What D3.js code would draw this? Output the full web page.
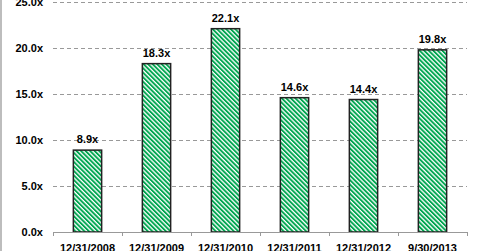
<!DOCTYPE html>
<html>
<head>
<meta charset="utf-8">
<script src="https://cdn.jsdelivr.net/npm/d3@7"></script>
<style>
body { margin: 0; background: #fff; }
svg text { font-family: Arial, "Liberation Sans", sans-serif; font-weight: bold; font-size: 11px; fill: #000; }
</style>
</head>
<body>
<div class="chart"></div>
<script>
var periods = ["12/31/2008", "12/31/2009", "12/31/2010", "12/31/2011", "12/31/2012", "9/30/2013"]
var multiples = [8.9, 18.3, 22.1, 14.6, 14.4, 19.8]
var yTicks = [0, 5, 10, 15, 20, 25]

var margin = { top: 2, right: 13, bottom: 19, left: 53 },
	width = 480 - margin.left - margin.right,
	height = 251 - margin.top - margin.bottom;

var svg = d3.select('.chart').append("svg")
	.attr("width", 480)
	.attr("height", 251);

// green hatch fill
var pat = svg.append("defs").append("pattern")
	.attr("id", "hatch")
	.attr("patternUnits", "userSpaceOnUse")
	.attr("width", 3.2)
	.attr("height", 3.2)
	.attr("patternTransform", "rotate(-45)")
pat.append("rect").attr("width", 3.2).attr("height", 3.2).attr("fill", "#fff")
pat.append("rect").attr("width", 1.9).attr("height", 3.2).attr("fill", "#00a650")

// left border strip
svg.append("rect")
	.attr("x", 0).attr("y", 0).attr("width", 2).attr("height", 251)
	.attr("fill", "#bdbdbd")

var g = svg.append("g")
	.attr("transform", "translate(" + margin.left + "," + margin.top + ")");

var y = d3.scaleLinear()
	.range([height, 0])
	.domain([0, 25])

var x = d3.scaleBand()
	.range([0, width])
	.domain(periods)
	.paddingInner(0.59)
	.paddingOuter(0.295)

// grid
g.selectAll(".grid")
	.data(yTicks.filter(function (d) { return d > 0 }))
	.enter().append("line")
	.attr("x1", 0).attr("x2", width)
	.attr("y1", function (d) { return y(d) + 0.5 })
	.attr("y2", function (d) { return y(d) + 0.5 })
	.attr("stroke", "#999")
	.attr("stroke-dasharray", "4,3")

// y labels
g.selectAll(".ylab")
	.data(yTicks)
	.enter().append("text")
	.attr("x", -10)
	.attr("y", function (d) { return y(d) + 4 })
	.attr("text-anchor", "end")
	.text(function (d) { return d.toFixed(1) + "x" })

g.selectAll(".bar")
	.data(multiples)
	.enter().append("rect")
	.attr("x", function (d, i) { return x(periods[i]) })
	.attr("y", function (d) { return y(d) })
	.attr("width", x.bandwidth())
	.attr("height", function (d) { return height - y(d) })
	.attr("fill", "url(#hatch)")
	.attr("stroke", "#222")
	.attr("stroke-width", 1.5)

g.selectAll(".val")
	.data(multiples)
	.enter().append("text")
	.attr("x", function (d, i) { return x(periods[i]) + x.bandwidth() / 2 })
	.attr("y", function (d) { return y(d) - 7 })
	.attr("text-anchor", "middle")
	.text(function (d) { return d.toFixed(1) + "x" })

// x axis
var xAxis = g.append("g")
	.attr("transform", "translate(0," + height + ")")
xAxis.append("line")
	.attr("x1", 0).attr("x2", width)
	.attr("y1", 0.5).attr("y2", 0.5)
	.attr("stroke", "#999")
var step = x.step()
xAxis.selectAll(".tick")
	.data(d3.range(periods.length + 1))
	.enter().append("line")
	.attr("x1", function (i) { return Math.round(i * step) + 0.5 })
	.attr("x2", function (i) { return Math.round(i * step) + 0.5 })
	.attr("y1", 0).attr("y2", 4)
	.attr("stroke", "#999")
xAxis.selectAll(".xlab")
	.data(periods)
	.enter().append("text")
	.attr("x", function (d) { return x(d) + x.bandwidth() / 2 })
	.attr("y", 20)
	.attr("text-anchor", "middle")
	.text(function (d) { return d })
</script>
</body>
</html>
